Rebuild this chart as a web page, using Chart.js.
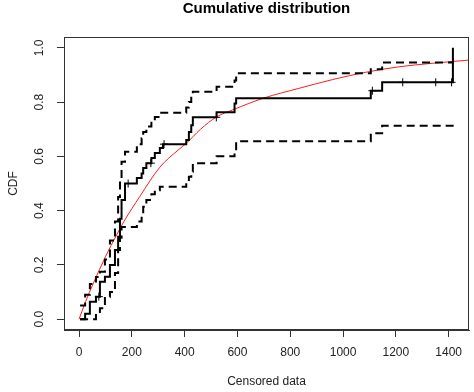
<!DOCTYPE html>
<html>
<head>
<meta charset="utf-8">
<script src="https://cdn.jsdelivr.net/npm/chart.js@4/dist/chart.umd.min.js"></script>
<style>
  html, body { margin: 0; padding: 0; background: #ffffff; }
  #wrap { width: 474px; height: 392px; }
</style>
</head>
<body>
<div id="wrap"><canvas id="c" width="474" height="392"></canvas></div>
<script>
// ---- data ----
const chartTitle = 'Cumulative distribution';
const xTitle = 'Censored data';
const yTitle = 'CDF';
const xTicks = [0, 200, 400, 600, 800, 1000, 1200, 1400];
const yTicks = [0, 0.2, 0.4, 0.6, 0.8, 1.0];

// Kaplan-Meier CDF (step function)
const kmTimes = [4, 23, 41, 64, 79, 98, 117, 136, 148, 155, 161, 174, 219, 237, 243, 255, 274, 287, 306, 318, 406, 416, 425, 431, 521, 589, 595, 1105, 1148, 1416];
const kmCdf   = [0, 0.02, 0.064, 0.083, 0.138, 0.156, 0.2, 0.255, 0.304, 0.37, 0.439, 0.5, 0.52, 0.537, 0.557, 0.575, 0.594, 0.612, 0.631, 0.645, 0.66, 0.69, 0.715, 0.744, 0.763, 0.795, 0.814, 0.842, 0.873, 1.0];

// confidence band (step functions)
const ciTimes = [4, 23, 41, 64, 79, 98, 117, 136, 148, 155, 161, 174, 219, 237, 243, 255, 274, 287, 306, 318, 406, 416, 425, 431, 521, 589, 595, 1105, 1148, 1419];
const ciUpper = [0.05, 0.09, 0.13, 0.155, 0.175, 0.22, 0.29, 0.36, 0.45, 0.52, 0.58, 0.617, 0.645, 0.667, 0.69, 0.71, 0.73, 0.745, 0.761, 0.761, 0.78, 0.80, 0.82, 0.838, 0.857, 0.88, 0.906, 0.921, 0.946, 0.946];
const ciLower = [0, 0, 0, 0.02, 0.04, 0.083, 0.1, 0.17, 0.255, 0.30, 0.34, 0.34, 0.36, 0.384, 0.414, 0.439, 0.46, 0.475, 0.488, 0.488, 0.506, 0.525, 0.543, 0.575, 0.60, 0.62, 0.656, 0.685, 0.713, 0.713];

// censored observations marks
const censorTimes = [75, 186, 272, 322, 520, 1111, 1226, 1351, 1411];
const censorCdf   = [0.083, 0.5, 0.575, 0.645, 0.744, 0.842, 0.873, 0.873, 0.873];

// fitted parametric CDF (red curve)
const fitX   = [0, 25, 54, 100, 142, 170, 230, 306, 375, 406, 460, 520, 581, 700, 834, 960, 1086, 1211, 1337, 1477];
const fitCdf = [0, 0.065, 0.132, 0.23, 0.31, 0.36, 0.452, 0.56, 0.623, 0.648, 0.70, 0.745, 0.771, 0.815, 0.851, 0.883, 0.91, 0.93, 0.943, 0.955];

const pts = (xs, ys) => xs.map((x, i) => ({ x: x, y: ys[i] }));
const FONT = "'Liberation Sans', Arial, Helvetica, sans-serif";
const AXIS_COLOR = '#333333';
const TEXT_COLOR = '#222222';

const boxPlugin = {
  id: 'rbox',
  afterDraw(chart) {
    const a = chart.chartArea, ctx = chart.ctx;
    ctx.save();
    ctx.strokeStyle = AXIS_COLOR;
    ctx.lineWidth = 1;
    ctx.strokeRect(Math.round(a.left) + 0.5, Math.round(a.top) + 0.5,
                   Math.round(a.right - a.left) - 1, Math.round(a.bottom - a.top) - 1);
    ctx.restore();
  }
};

const stepLine = (data, dash) => ({
  data: data,
  showLine: true,
  stepped: true,
  borderColor: '#000000',
  borderWidth: 2,
  borderDash: dash,
  borderCapStyle: 'butt',
  borderJoinStyle: 'miter',
  pointRadius: 0,
  fill: false
});

new Chart(document.getElementById('c'), {
  type: 'scatter',
  data: {
    datasets: [
      stepLine(pts(ciTimes, ciLower), [8, 5]),
      stepLine(pts(ciTimes, ciUpper), [8, 5]),
      stepLine(pts(kmTimes, kmCdf), []),
      {
        data: pts(censorTimes, censorCdf),
        showLine: false,
        pointStyle: 'cross',
        pointRadius: 4,
        pointBorderWidth: 1,
        pointBorderColor: '#000000',
        pointBackgroundColor: '#000000'
      },
      {
        data: pts(fitX, fitCdf),
        showLine: true,
        borderColor: '#ff1a1a',
        borderWidth: 1,
        cubicInterpolationMode: 'monotone',
        pointRadius: 0,
        fill: false
      }
    ]
  },
  options: {
    responsive: false,
    animation: false,
    devicePixelRatio: 1,
    layout: { padding: { left: 0, right: 4, top: 0, bottom: 0 } },
    plugins: {
      legend: { display: false },
      tooltip: { enabled: false },
      title: {
        display: true,
        text: chartTitle,
        fullSize: false,
        color: '#000000',
        font: { family: FONT, size: 15, weight: 'bold' },
        padding: { top: 0, bottom: 19 }
      }
    },
    scales: {
      x: {
        type: 'linear',
        min: -57,
        max: 1477,
        afterBuildTicks: (s) => { s.ticks = xTicks.map(v => ({ value: v })); },
        afterFit: (s) => { s.height = 62; },
        grid: { display: true, drawOnChartArea: false, drawTicks: true, tickLength: 7, color: AXIS_COLOR, lineWidth: 1 },
        border: { display: true, color: AXIS_COLOR, width: 1 },
        ticks: {
          color: TEXT_COLOR,
          font: { family: FONT, size: 12 },
          padding: 8,
          maxRotation: 0,
          autoSkip: false,
          callback: (v) => String(v)
        },
        title: {
          display: true,
          text: xTitle,
          color: TEXT_COLOR,
          font: { family: FONT, size: 12 },
          padding: { top: 0, bottom: 3 }
        }
      },
      y: {
        type: 'linear',
        min: -0.04,
        max: 1.04,
        afterBuildTicks: (s) => { s.ticks = yTicks.map(v => ({ value: v })); },
        afterFit: (s) => { s.width = 64; },
        grid: { display: true, drawOnChartArea: false, drawTicks: true, tickLength: 7, color: AXIS_COLOR, lineWidth: 1 },
        border: { display: true, color: AXIS_COLOR, width: 1 },
        ticks: {
          color: TEXT_COLOR,
          font: { family: FONT, size: 12 },
          padding: 9,
          minRotation: 90,
          maxRotation: 90,
          crossAlign: 'center',
          autoSkip: false,
          callback: (v) => Number(v).toFixed(1)
        },
        title: {
          display: true,
          text: yTitle,
          color: TEXT_COLOR,
          font: { family: FONT, size: 12 },
          padding: { top: 6, bottom: 0 }
        }
      }
    }
  },
  plugins: [boxPlugin]
});
</script>
</body>
</html>
